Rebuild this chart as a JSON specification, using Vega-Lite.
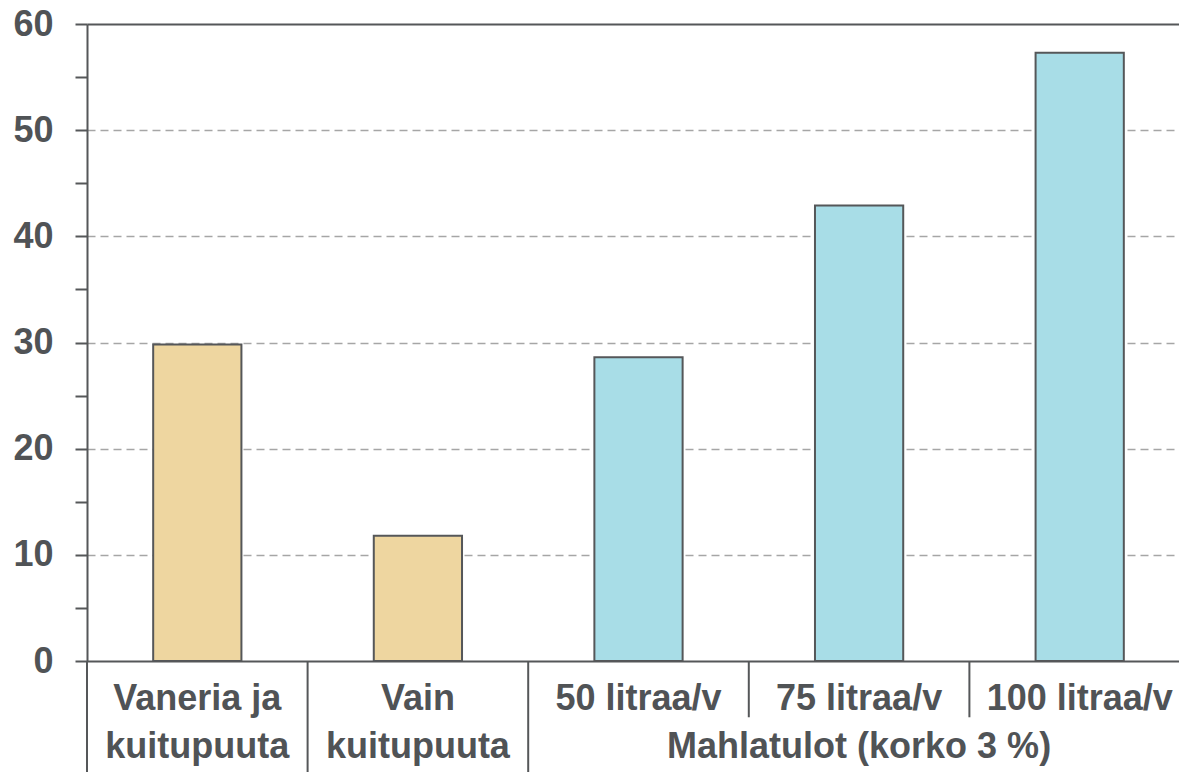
{
  "$schema": "https://vega.github.io/schema/vega-lite/v6.json",
  "autosize": {"type": "none"},
  "padding": {"left": 87, "top": 24, "right": 0, "bottom": 111},
  "width": 1092,
  "height": 637,
  "background": "white",
  "config": {
    "view": {"stroke": null},
    "font": "Liberation Sans"
  },
  "data": {
    "values": [
      {"kategoria": "Vaneria ja kuitupuuta", "ryhma": "Puu", "arvo": 29.8},
      {"kategoria": "Vain kuitupuuta", "ryhma": "Puu", "arvo": 11.8},
      {"kategoria": "50 litraa/v", "ryhma": "Mahla", "arvo": 28.6},
      {"kategoria": "75 litraa/v", "ryhma": "Mahla", "arvo": 42.9},
      {"kategoria": "100 litraa/v", "ryhma": "Mahla", "arvo": 57.3}
    ]
  },
  "layer": [
    {
      "mark": {"type": "bar", "stroke": "#555759", "strokeWidth": 2},
      "encoding": {
        "x": {
          "field": "kategoria",
          "type": "nominal",
          "sort": null,
          "scale": {"range": [0, 1103], "paddingInner": 0.6, "paddingOuter": 0.3},
          "axis": {
            "title": null,
            "ticks": false,
            "domainColor": "#555759",
            "domainWidth": 2,
            "labelAngle": 0,
            "labelFont": "Liberation Sans",
            "labelFontWeight": "bold",
            "labelFontSize": 36,
            "labelColor": "#505356",
            "labelPadding": 20,
            "labelLineHeight": 48,
            "labelLimit": 0,
            "labelExpr": "datum.value == 'Vaneria ja kuitupuuta' ? ['Vaneria ja', 'kuitupuuta'] : datum.value == 'Vain kuitupuuta' ? ['Vain', 'kuitupuuta'] : datum.value == '75 litraa/v' ? ['75 litraa/v', 'Mahlatulot (korko 3 %)'] : datum.label"
          }
        },
        "y": {
          "field": "arvo",
          "type": "quantitative",
          "scale": {"domain": [0, 60], "nice": false},
          "axis": {
            "title": null,
            "values": [0, 5, 10, 15, 20, 25, 30, 35, 40, 45, 50, 55, 60],
            "labelExpr": "datum.value % 10 == 0 ? datum.label : ''",
            "domainColor": "#555759",
            "domainWidth": 2,
            "tickColor": "#555759",
            "tickWidth": 2,
            "tickSize": 12,
            "labelPadding": 22,
            "labelFont": "Liberation Sans",
            "labelFontWeight": "bold",
            "labelFontSize": 36,
            "labelColor": "#505356",
            "grid": true,
            "gridColor": {"condition": {"test": "datum.value == 60", "value": "#555759"}, "value": "#a6a6a6"},
            "gridDash": {"condition": {"test": "datum.value == 60", "value": []}, "value": [8, 5]},
            "gridWidth": {"condition": {"test": "datum.value == 60", "value": 2}, "value": 1.5},
            "gridOpacity": {"condition": {"test": "datum.value % 10 == 0 && datum.value > 0", "value": 1}, "value": 0}
          }
        },
        "color": {
          "field": "ryhma",
          "type": "nominal",
          "scale": {"domain": ["Puu", "Mahla"], "range": ["#eed6a0", "#a8dde7"]},
          "legend": null
        }
      }
    },
    {
      "transform": [{"filter": "!(datum.ryhma == 'Mahla' && datum.kategoria != '50 litraa/v')"}],
      "mark": {"type": "rule", "color": "#555759", "strokeWidth": 2},
      "encoding": {
        "x": {"field": "kategoria", "type": "nominal", "sort": null, "bandPosition": -0.75},
        "y": {"datum": 0},
        "y2": {"datum": -10.5}
      }
    },
    {
      "transform": [{"filter": "datum.ryhma == 'Mahla' && datum.kategoria != '50 litraa/v'"}],
      "mark": {"type": "rule", "color": "#555759", "strokeWidth": 2},
      "encoding": {
        "x": {"field": "kategoria", "type": "nominal", "sort": null, "bandPosition": -0.75},
        "y": {"datum": 0},
        "y2": {"datum": -5.3}
      }
    }
  ]
}
